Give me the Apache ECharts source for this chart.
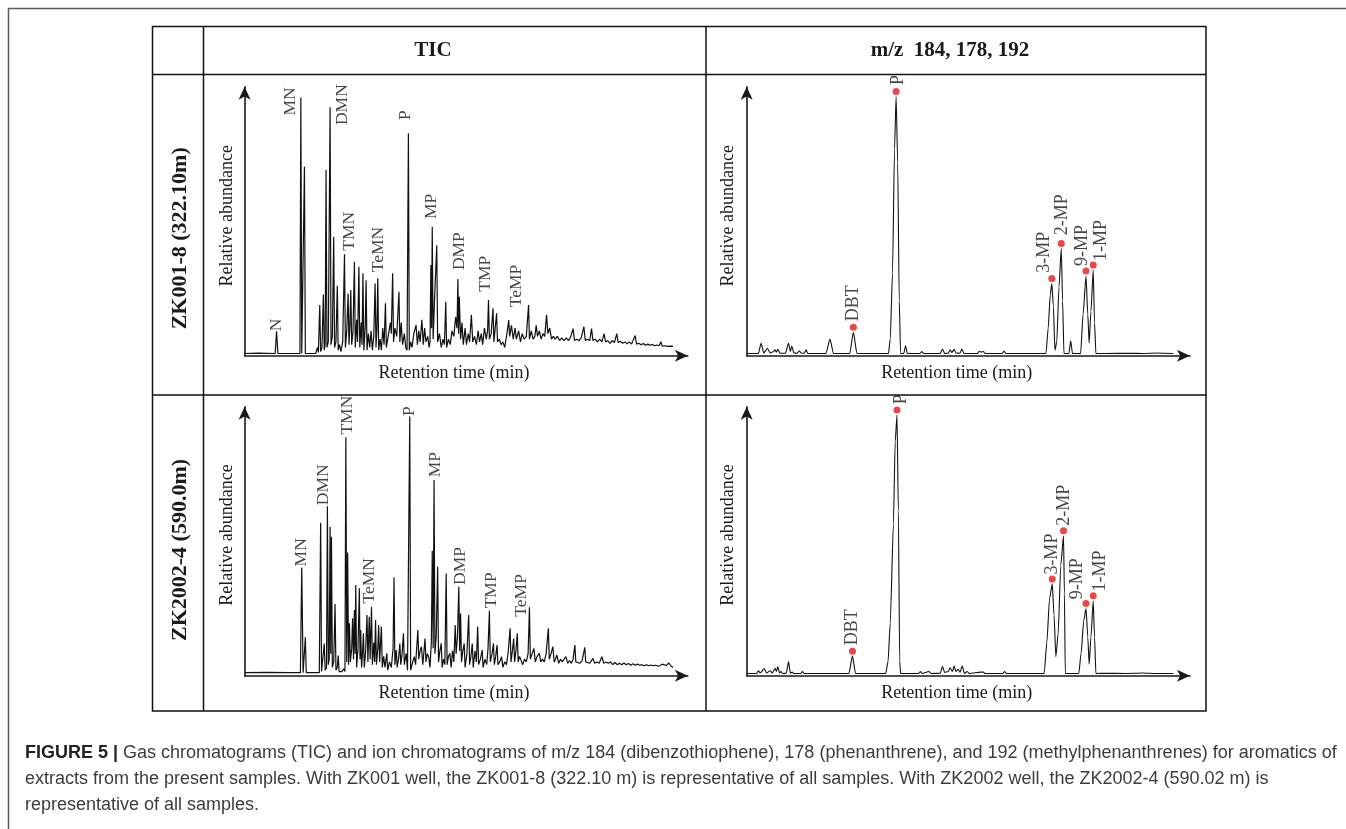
<!DOCTYPE html>
<html>
<head>
<meta charset="utf-8">
<script src="https://cdn.jsdelivr.net/npm/echarts@6/dist/echarts.min.js"></script>
<style>
  html, body { margin: 0; padding: 0; background: #fff; }
  #chart { width: 1346px; height: 829px; }
</style>
</head>
<body>
<div id="chart"></div>
<script>
// ---- Traces: [retention time, relative abundance] ----
// TIC, sample ZK001-8 (322.10 m)
const ticZK001 = [
  [0,0.8],[3,0.9],[6.8,0.8],[7.1,8.9],[7.4,0.8],[12.3,0.8],[12.5,93.7],[12.7,0.8],[13.1,0.8],[13.3,68.6],[13.5,0.8],
  [15.8,0.8],[16.2,3],[16.4,1.2],[16.7,18.4],[16.9,1.5],[17.2,3],[17.5,22.2],[17.7,2],[17.9,4],[18.1,67.4],[18.3,3],
  [18.6,5],[19.0,90.1],[19.2,4],[19.5,7],[19.8,43.2],[20.0,3],[20.3,5],[20.6,25.4],[20.8,2],[21.1,4],[21.4,1.5],
  [21.8,5],[22.2,36.8],[22.4,3],[22.7,9],[23.0,22.6],[23.2,4],[23.4,11],[23.6,23.8],[23.8,4],[24.1,9],[24.4,34.1],
  [24.6,3],[24.9,13],[25.1,5],[25.4,32.3],[25.6,3],[25.9,12],[26.1,4],[26.3,29.9],[26.5,2],[26.8,10],[27.0,27.4],
  [27.2,2],[27.5,8],[27.8,3],[28.1,9],[28.4,2],[28.7,7],[29.0,26.2],[29.2,3],[29.4,10],[29.6,28.1],[29.8,2],[30.1,6],
  [30.4,2],[30.7,10],[31.0,4],[31.3,19],[31.5,3],[31.8,6],[32.1,9],[32.4,12],[32.6,8],[32.9,29.9],[33.1,5],[33.4,10],
  [33.8,7],[34.3,23.2],[34.5,5],[34.8,12],[35.1,4],[35.5,8],[35.8,3],[36.1,2],[36.4,80.7],[36.6,2],[36.9,5],[37.2,3],
  [37.6,8],[38.1,11.1],[38.4,4],[38.7,9],[39.0,5],[39.4,13],[39.7,4],[40.0,10],[40.3,5],[40.7,7],[41.0,3],[41.2,5],
  [41.4,32.9],[41.55,10],[41.7,46.8],[41.9,6],[42.2,20],[42.7,40.1],[42.9,5],[43.3,8],[43.7,3],[44.1,6],[44.4,4],
  [44.7,19.6],[44.9,3],[45.3,6],[45.7,4],[46.1,9],[46.5,7],[46.9,14],[47.2,10],[47.4,27.8],[47.55,8],[47.7,21.4],
  [48.0,6],[48.3,12],[48.6,4],[49.0,10],[49.3,4],[49.7,8],[50.0,5],[50.4,14.8],[50.7,5],[51.1,7],[51.5,4],[51.9,9],
  [52.2,5],[52.6,8],[52.9,4],[53.3,10],[53.7,6],[54.0,9],[54.2,20.2],[54.4,6],[54.8,8],[55.2,17.2],[55.4,5],[56.0,15.4],
  [56.2,5],[56.6,6],[57.0,4],[57.4,5],[57.8,3],[58.3,8],[58.7,12.9],[58.9,7],[59.3,11],[59.7,6],[60.1,10],[60.4,6],
  [60.9,9],[61.3,5],[61.7,8],[62.1,6],[62.6,7],[63.1,18.4],[63.3,6],[63.7,9],[64.1,6],[64.5,7],[64.8,11],[65.1,7],
  [65.5,9],[65.9,6],[66.3,8],[66.7,7],[67.1,14.8],[67.4,8],[67.8,10],[68.2,6],[68.6,7],[69.0,6],[69.5,7],[70.0,5.5],
  [70.5,6.5],[71.0,5.5],[71.5,6.5],[72.0,5.5],[72.5,7],[73.0,9.8],[73.3,5.5],[73.8,6],[74.3,5.5],[74.8,6.5],[75.4,10.5],
  [75.7,5.5],[76.2,6],[76.7,5.5],[77.1,9.8],[77.4,5.5],[77.9,6],[78.4,5],[78.9,6],[79.4,5],[79.9,8],[80.2,5],[80.7,5.5],
  [81.2,4.5],[81.7,5.5],[82.2,4.8],[82.7,8],[83.0,4.8],[83.5,5.2],[84.0,4.5],[84.5,5],[85.0,4.3],[85.5,5],[86.0,4.2],
  [86.8,7.3],[87.1,4.2],[87.6,4.5],[88.1,4],[88.6,4.4],[89.1,3.8],[89.6,4.2],[90.1,3.8],[90.6,4.1],[91.1,3.6],[91.6,3.9],
  [92.1,3.6],[92.5,5.1],[92.8,3.5],[93.4,3.6],[94.0,3.4],[94.6,3.5],[95.2,3.4]
];

// TIC, sample ZK2002-4 (590.0 m)
const ticZK2002 = [
  [0,1.1],[5,1.2],[10,1.1],[12.4,1.1],[12.7,39.3],[13.0,1.1],[13.3,1.1],[13.5,13.9],[13.7,1.1],[16.6,1.1],[16.9,55.5],
  [17.1,1.5],[17.4,2],[17.7,11.7],[17.9,2],[18.2,3],[18.4,61.5],[18.6,4],[18.8,6],[19.0,54],[19.15,8],[19.3,50.4],
  [19.5,3],[19.8,5],[20.1,26],[20.3,2],[20.6,3],[20.8,7.3],[21.0,1.5],[21.6,1.5],[22.0,2.5],[22.3,1.5],[22.5,86.5],
  [22.7,5],[22.9,44.7],[23.1,4],[23.3,19],[23.5,5],[23.8,10],[24.0,20.8],[24.2,6],[24.4,23.8],[24.55,8],[24.7,32.9],
  [24.9,3],[25.2,10],[25.5,31.7],[25.65,6],[25.8,16.6],[26.0,3],[26.2,8],[26.4,15.4],[26.6,3],[26.9,9],[27.2,22],
  [27.4,5],[27.7,21.4],[27.9,6],[28.2,25],[28.4,4],[28.7,12],[28.9,5],[29.1,20.2],[29.3,4],[29.6,10],[29.8,18.4],
  [30.0,5],[30.4,17.8],[30.6,3],[30.9,7],[31.2,3],[31.6,8.1],[31.8,2],[32.2,5],[32.6,3],[33.0,10],[33.2,35.7],[33.4,4],
  [33.7,9.3],[33.9,3],[34.2,6],[34.5,11.7],[34.7,4],[35.0,8],[35.3,15.4],[35.5,4],[35.9,8.1],[36.2,2],[36.5,2],
  [36.7,94.0],[36.9,2],[37.2,4],[37.7,6.9],[38.0,4],[38.5,16.6],[38.7,6],[39.0,9],[39.3,10.5],[39.6,4],[40.1,13.5],
  [40.3,5],[40.6,8],[40.9,6.9],[41.2,3],[41.5,12],[41.7,45.3],[41.9,10],[42.1,71],[42.3,8],[42.6,15],[42.9,39.5],
  [43.1,5],[43.4,9],[43.7,11.7],[43.9,3],[44.2,6],[44.5,4],[44.8,37.1],[45.0,4],[45.3,7],[45.6,8.1],[45.9,3],[46.2,9],
  [46.5,5],[46.8,18.4],[47.0,8],[47.3,14],[47.6,32.3],[47.8,9],[48.0,22.6],[48.2,5],[48.5,9],[48.8,11.7],[49.0,3],
  [49.4,8],[49.8,22],[50.0,4],[50.3,7],[50.6,11.7],[50.8,3],[51.2,9],[51.5,5],[51.8,17.8],[52.0,4],[52.4,6],[52.8,9.3],
  [53.0,3],[53.4,6],[53.8,4],[54.1,10],[54.4,23.6],[54.6,5],[55.0,8],[55.3,11.7],[55.5,4],[55.8,7],[56.1,11.1],[56.3,4],
  [56.7,5],[57.1,6.9],[57.4,3],[57.8,5],[58.2,4],[58.6,9],[59.0,17.2],[59.2,5],[59.5,9],[59.8,13.5],[60.0,5],[60.3,9],
  [60.6,15.4],[60.8,5],[61.1,7],[61.5,6.9],[61.8,4],[62.2,6],[62.6,5],[63.0,8],[63.3,24.8],[63.5,6],[63.9,8],[64.3,9.9],
  [64.6,5],[65.0,7],[65.5,8.1],[65.8,5],[66.2,6],[66.6,5],[67.0,8],[67.5,17.2],[67.7,6],[68.1,8],[68.5,10.5],[68.8,5],
  [69.1,6],[69.4,7.5],[69.8,4.5],[70.2,6],[70.6,5],[71.0,6],[71.4,6.9],[71.8,4.5],[72.2,5.5],[72.6,4.5],[73.0,6],
  [73.4,11.1],[73.6,5],[74.0,5.5],[74.5,4.5],[75.0,5.5],[75.6,10.3],[75.8,5],[76.2,5.5],[76.7,4.5],[77.0,5],[77.4,6.3],
  [77.8,4.5],[78.3,5],[78.8,4.5],[79.4,6.9],[79.8,4.5],[80.3,5],[80.8,4.5],[81.3,5],[81.8,4],[82.3,4.8],[82.8,4],
  [83.3,4.5],[83.8,4],[84.3,4.6],[84.8,4],[85.3,4.4],[85.8,3.8],[86.3,4.3],[86.8,3.8],[87.3,4.2],[87.8,3.8],[88.3,4],
  [88.8,3.6],[89.3,4],[89.8,3.6],[90.3,3.9],[90.8,3.6],[91.3,3.8],[91.8,3.5],[92.3,3.6],[92.8,4.2],[93.2,3.5],[93.7,3.7],
  [94.3,4.6],[94.7,3.6],[95.2,3.0]
];

// m/z 184, 178, 192 ion chromatogram, sample ZK001-8
const ionZK001 = [
  [0,0.8],[2.6,0.8],[3.2,4.5],[3.8,1],[4.6,2.7],[5.2,1],[6.0,1.5],[6.3,2.1],[6.6,1.3],[6.9,2.3],[7.4,0.9],[8.6,0.9],
  [9.3,4.5],[9.7,1.5],[10.0,3.5],[10.5,1],[11.2,0.9],[11.7,1.7],[12.2,0.9],[12.8,0.9],[13.2,2.1],[13.6,0.8],[17.6,0.8],
  [18.5,6.0],[19.3,0.8],[22.9,0.8],[23.7,8.5],[24.5,0.8],[31.5,0.8],[31.9,6],[32.4,30],[32.85,75],[33.2,94.0],[33.55,70],
  [33.9,20],[34.2,0.8],[34.9,0.8],[35.3,3.6],[35.7,0.8],[38.5,0.8],[38.9,1.5],[39.3,0.8],[43.0,0.8],[43.5,2.4],[44.0,0.8],
  [44.8,0.9],[45.2,2.1],[45.6,1.2],[46.1,2.3],[46.5,1.0],[47.4,0.9],[47.8,2.4],[48.3,0.8],[51.3,0.8],[51.6,1.5],[52.2,1.3],
  [52.6,1.5],[53.0,0.8],[56.8,0.8],[57.2,1.7],[57.6,0.8],[66.5,0.8],[67.0,10],[67.45,22],[67.8,26.2],[68.15,18],[68.5,2],
  [68.9,5],[69.4,25],[69.9,38.9],[70.2,20],[70.5,0.8],[71.6,0.8],[72.0,5.4],[72.4,0.8],[74.2,0.8],[74.75,15],[75.4,28.9],
  [75.8,15],[76.1,4.5],[76.5,16],[77.0,31.1],[77.3,12],[77.6,0.8],[80,0.8],[85,0.9],[88,0.8],[91,1.0],[94.8,0.8]
];

// m/z 184, 178, 192 ion chromatogram, sample ZK2002-4
const ionZK2002 = [
  [0,0.8],[2.2,0.8],[2.6,1.8],[3.0,1],[3.9,2.5],[4.4,1],[5.2,1.8],[5.7,1.0],[6.3,2.7],[6.6,1.5],[6.9,3.3],[7.3,1],
  [7.6,1.5],[8.0,0.8],[8.8,0.9],[9.3,5.1],[9.7,0.9],[10.1,1.3],[10.5,0.8],[12.0,0.8],[12.4,1.5],[12.8,0.8],[22.7,0.8],
  [23.5,7.1],[24.2,0.8],[30.9,0.8],[31.4,5],[31.9,19],[32.6,55],[33.0,85],[33.4,94.6],[33.7,60],[34.0,5],[34.2,0.8],
  [38.2,0.8],[38.6,1.5],[39.0,0.8],[40.5,1.5],[41.0,0.8],[43.0,0.9],[43.5,3.3],[44.0,1.2],[44.8,1.5],[45.2,2.9],[45.7,1.5],
  [46.1,3.5],[46.5,1.5],[47.0,2.3],[47.4,1.2],[47.9,3.5],[48.4,0.8],[49.0,1.5],[49.5,0.8],[52.0,1.3],[52.6,1.3],[53.0,0.8],
  [56.9,0.8],[57.3,1.5],[57.7,0.8],[66.1,0.8],[66.7,12],[67.3,28],[67.9,33.3],[68.3,22],[68.7,6.9],[69.2,15],[69.8,40],
  [70.4,50.8],[70.6,30],[70.8,0.8],[73.8,0.8],[74.3,8],[74.9,20],[75.4,24.4],[75.8,14],[76.1,4.2],[76.5,14],[77.0,27.2],
  [77.3,14],[77.6,0.8],[80,0.9],[84,0.8],[88,1.0],[91,0.8],[94.8,0.8]
];

// ---- Named peaks ----
const ticZK001Names   = ['N', 'MN', 'DMN', 'TMN', 'TeMN', 'P', 'MP', 'DMP', 'TMP', 'TeMP'];
const ticZK001Times   = [7.1, 12.5, 19.0, 22.2, 29.6, 36.4, 41.7, 47.4, 54.2, 63.1];
const ticZK001Heights = [8.9, 93.7, 90.1, 36.8, 28.1, 80.7, 46.8, 27.8, 20.2, 18.4];

const ticZK2002Names   = ['MN', 'DMN', 'TMN', 'TeMN', 'P', 'MP', 'DMP', 'TMP', 'TeMP'];
const ticZK2002Times   = [12.7, 18.4, 22.5, 28.2, 36.7, 42.1, 47.6, 54.4, 63.3];
const ticZK2002Heights = [39.3, 61.5, 86.5, 25.0, 94.0, 71.0, 32.3, 23.6, 24.8];

const ionNames          = ['DBT', 'P', '3-MP', '2-MP', '9-MP', '1-MP'];
const ionZK001Times     = [23.7, 33.2, 67.8, 69.9, 75.4, 77.0];
const ionZK001Heights   = [8.5, 94.0, 26.2, 38.9, 28.9, 31.1];
const ionZK2002Times    = [23.5, 33.4, 67.9, 70.4, 75.4, 77.0];
const ionZK2002Heights  = [7.1, 94.6, 33.3, 50.8, 24.4, 27.2];

// ---- Text ----
const columnTitles = ['TIC', 'm/z  184, 178, 192'];
const rowTitles = ['ZK001-8 (322.10m)', 'ZK2002-4 (590.0m)'];
const yAxisTitle = 'Relative abundance';
const xAxisTitle = 'Retention time (min)';
const captionLines = [
  'Gas chromatograms (TIC) and ion chromatograms of m/z 184 (dibenzothiophene), 178 (phenanthrene), and 192 (methylphenanthrenes) for aromatics of',
  'extracts from the present samples. With ZK001 well, the ZK001-8 (322.10 m) is representative of all samples. With ZK2002 well, the ZK2002-4 (590.02 m) is',
  'representative of all samples.'
];

// ---- Styling / layout ----
const SERIF = "'Liberation Serif', 'Times New Roman', serif";
const SANS = "'Liberation Sans', Arial, Helvetica, sans-serif";
const X_MAX = 98.5, Y_MAX = 97.6;
const PW = 443.25, PH = 269;
const grids = [
  { left: 244.6, top: 86.7 },   // TIC, ZK001-8
  { left: 746.7, top: 86.7 },   // ions, ZK001-8
  { left: 244.6, top: 406.7 },  // TIC, ZK2002-4
  { left: 746.7, top: 406.7 }   // ions, ZK2002-4
];
// label nudges (px) from the peak apex / marker centre
const ticZK001Nudge = [[0,0],[-10,18],[12.6,17.7],[5,-3.5],[1,-6],[-2.6,-13.3],[-0.6,-7.7],[1.7,-9],[-2.9,-8.3],[-12.5,2.3]];
const ticZK2002Nudge = [[0,-1],[-4.4,-1],[1.3,-2.7],[-1.7,-3.3],[0,-0.7],[1.7,-2.7],[2,-1.7],[1.8,-2.3],[-8.2,9.3]];
const ionZK001Nudge = [[0,-6],[2,-6.7],[-7.3,-5.7],[0.7,-8.3],[-4,-5],[7.7,-4]];
const ionZK002Nudge = [[0,-6],[4.7,-5.7],[0,-4.3],[0.7,-5],[-8.3,-4.3],[7,-4.3]];

const axisLine = {
  show: true,
  onZero: false,
  symbol: ['none', 'arrow'],
  symbolSize: [9, 13],
  lineStyle: { color: '#1a1a1a', width: 1.6 }
};

function axisPair(i) {
  return {
    x: { type: 'value', gridIndex: i, min: 0, max: X_MAX, axisLine: axisLine,
         axisTick: { show: false }, axisLabel: { show: false }, splitLine: { show: false } },
    y: { type: 'value', gridIndex: i, min: 0, max: Y_MAX, axisLine: axisLine,
         axisTick: { show: false }, axisLabel: { show: false }, splitLine: { show: false } }
  };
}

function traceSeries(i, data, smooth) {
  return {
    type: 'line', xAxisIndex: i, yAxisIndex: i, data: data,
    showSymbol: false, symbol: 'none', silent: true, animation: false,
    smooth: smooth ? 0.2 : false, smoothMonotone: 'x',
    lineStyle: { color: '#111', width: smooth ? 1.1 : 1.2 }, z: 2
  };
}

function peakLabelStyle(size) {
  return {
    show: true, formatter: '{b}', rotate: 90, align: 'left', verticalAlign: 'middle',
    fontFamily: SERIF, fontSize: size, color: '#161616'
  };
}

function ticLabelSeries(i, names, times, heights, nudge) {
  const s = 1;
  return {
    type: 'scatter', xAxisIndex: i, yAxisIndex: i, silent: true, animation: false,
    symbolSize: s, itemStyle: { color: 'rgba(0,0,0,0)' }, z: 5,
    label: peakLabelStyle(17.5),
    data: names.map((n, k) => ({
      name: n, value: [times[k], heights[k]],
      label: { position: [s / 2 + nudge[k][0], s / 2 + nudge[k][1]] }
    }))
  };
}

function ionMarkerSeries(i, names, times, heights, nudge) {
  const s = 7;
  return {
    type: 'scatter', xAxisIndex: i, yAxisIndex: i, silent: true, animation: false,
    symbol: 'circle', symbolSize: s, symbolOffset: [0, -5],
    itemStyle: { color: '#e8161c' }, z: 5,
    label: peakLabelStyle(18),
    data: names.map((n, k) => ({
      name: n, value: [times[k], heights[k]],
      label: { position: [s / 2 + nudge[k][0], s / 2 + nudge[k][1]] }
    }))
  };
}

const axes = grids.map((g, i) => axisPair(i));

// ---- Static frame, headings, axis titles and caption ----
const LINE = '#111';
const graphics = [
  { type: 'polyline', shape: { points: [[8.5, 829], [8.5, 8.5], [1346, 8.5]] },
    style: { stroke: '#5a5a5a', lineWidth: 1.5, fill: null } },
  { type: 'rect', shape: { x: 152.5, y: 26.5, width: 1053.5, height: 684.5 },
    style: { stroke: LINE, lineWidth: 1.5, fill: null } },
  { type: 'line', shape: { x1: 152.5, y1: 74.5, x2: 1206, y2: 74.5 }, style: { stroke: LINE, lineWidth: 1.5 } },
  { type: 'line', shape: { x1: 152.5, y1: 395, x2: 1206, y2: 395 }, style: { stroke: LINE, lineWidth: 1.5 } },
  { type: 'line', shape: { x1: 203.5, y1: 26.5, x2: 203.5, y2: 711 }, style: { stroke: LINE, lineWidth: 1.5 } },
  { type: 'line', shape: { x1: 706, y1: 26.5, x2: 706, y2: 711 }, style: { stroke: LINE, lineWidth: 1.5 } }
];

const colCenters = [433, 950];
columnTitles.forEach((t, k) => graphics.push({
  type: 'text', x: colCenters[k], y: 51,
  style: { text: t, font: 'bold 21px ' + SERIF, fill: '#1a1a1a', align: 'center', verticalAlign: 'middle' }
}));

const rowCenters = [238.3, 550];
rowTitles.forEach((t, k) => graphics.push({
  type: 'text', x: 180.4, y: rowCenters[k], rotation: Math.PI / 2,
  style: { text: t, font: 'bold 22px ' + SERIF, fill: '#1a1a1a', align: 'center', verticalAlign: 'middle' }
}));

const yTitlePos = [[226.8, 215.7], [728.3, 215.7], [226.8, 535], [728.3, 535]];
const xTitlePos = [[454, 373.3], [956.7, 373.3], [454, 693.3], [956.7, 693.3]];
yTitlePos.forEach(p => graphics.push({
  type: 'text', x: p[0], y: p[1], rotation: Math.PI / 2,
  style: { text: yAxisTitle, font: '18px ' + SERIF, fill: '#1a1a1a', align: 'center', verticalAlign: 'middle' }
}));
xTitlePos.forEach(p => graphics.push({
  type: 'text', x: p[0], y: p[1],
  style: { text: xAxisTitle, font: '18px ' + SERIF, fill: '#1a1a1a', align: 'center', verticalAlign: 'middle' }
}));

const captionY = [753, 779, 805];
captionLines.forEach((t, k) => graphics.push({
  type: 'text', x: 25, y: captionY[k],
  style: {
    text: k === 0 ? '{b|FIGURE 5 |} ' + t : t,
    font: '18px ' + SANS, fill: '#3c3c3c', align: 'left', verticalAlign: 'middle',
    rich: { b: { font: 'bold 18px ' + SANS, fill: '#222' } }
  }
}));

const option = {
  backgroundColor: '#fff',
  animation: false,
  grid: grids.map(g => ({ left: g.left, top: g.top, width: PW, height: PH, outerBoundsMode: 'none', containLabel: false })),
  xAxis: axes.map(a => a.x),
  yAxis: axes.map(a => a.y),
  series: [
    traceSeries(0, ticZK001, false),
    traceSeries(1, ionZK001, true),
    traceSeries(2, ticZK2002, false),
    traceSeries(3, ionZK2002, true),
    ticLabelSeries(0, ticZK001Names, ticZK001Times, ticZK001Heights, ticZK001Nudge),
    ticLabelSeries(2, ticZK2002Names, ticZK2002Times, ticZK2002Heights, ticZK2002Nudge),
    ionMarkerSeries(1, ionNames, ionZK001Times, ionZK001Heights, ionZK001Nudge),
    ionMarkerSeries(3, ionNames, ionZK2002Times, ionZK2002Heights, ionZK002Nudge)
  ],
  graphic: graphics
};

const chart = echarts.init(document.getElementById('chart'));
chart.setOption(option);
</script>
</body>
</html>
